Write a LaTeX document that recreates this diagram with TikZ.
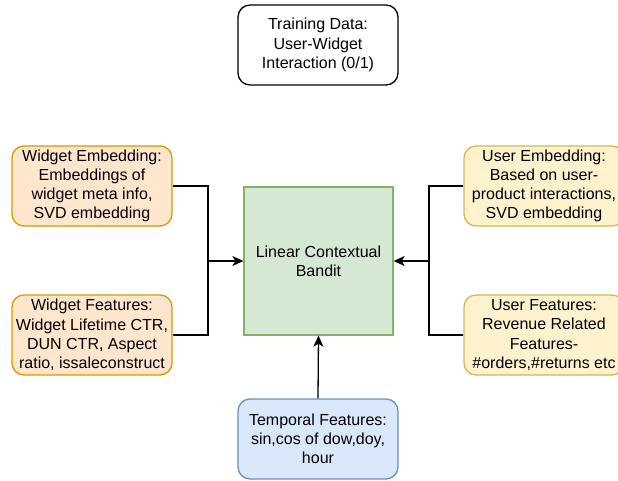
\documentclass[tikz,border=0pt]{standalone}
\usepackage{fontspec}
\setmainfont{Liberation Sans}
\usetikzlibrary{arrows.meta}
\definecolor{orfill}{HTML}{FFE6CC}
\definecolor{ordraw}{HTML}{D79B00}
\definecolor{yefill}{HTML}{FFF2CC}
\definecolor{yedraw}{HTML}{D6B656}
\definecolor{grfill}{HTML}{D5E8D4}
\definecolor{grdraw}{HTML}{82B366}
\definecolor{blfill}{HTML}{DAE8FC}
\definecolor{bldraw}{HTML}{6C8EBF}
\tikzset{
  box/.style={rounded corners=12pt, line width=1.3pt, minimum width=160pt, minimum height=80pt,
    inner sep=0pt, align=center, font=\fontsize{16}{19.2}\selectfont},
  orbox/.style={box, fill=orfill, draw=ordraw},
  yebox/.style={box, fill=yefill, draw=yedraw},
  whbox/.style={box, fill=white, draw=black},
  blbox/.style={box, fill=blfill, draw=bldraw},
  grbox/.style={line width=1.3pt, fill=grfill, draw=grdraw, minimum width=149pt, minimum height=148pt,
    inner sep=0pt, align=center, font=\fontsize{16}{19.2}\selectfont},
  conn/.style={line width=1.3pt, draw=black},
  arr/.style={conn, -{Stealth[length=11pt,width=10pt,inset=3pt]}}
}
\begin{document}
\begin{tikzpicture}[x=1pt,y=-1pt]
\fill[white] (0,0) rectangle (618,480);
\useasboundingbox (0,0) rectangle (618,480);
\clip (0,0) rectangle (618,480);
\node[whbox] (train) at (318,45) {Training Data:\\User-Widget\\Interaction (0/1)};
\node[grbox] (lcb) at (318.5,261) {Linear Contextual\\Bandit};
\node[orbox] (we) at (92,186) {Widget Embedding:\\Embeddings of\\widget meta info,\\SVD embedding};
\node[orbox] (wf) at (92,335) {Widget Features:\\Widget Lifetime CTR,\\DUN CTR, Aspect\\ratio, issaleconstruct};
\node[yebox] (ue) at (544,186) {User Embedding:\\Based on user-\\product interactions,\\SVD embedding};
\node[yebox] (uf) at (544,335) {User Features:\\Revenue Related\\Features-\\\#orders,\#returns etc};
\node[blbox] (tf) at (318,439) {Temporal Features:\\sin,cos of dow,doy,\\hour};
\coordinate (jl) at (208,261);
\coordinate (jr) at (429,261);
\draw[conn] (we.east) -| (jl);
\draw[conn] (wf.east) -| (jl);
\draw[arr] (jl) -- (lcb.west);
\draw[conn] (ue.west) -| (jr);
\draw[conn] (uf.west) -| (jr);
\draw[arr] (jr) -- (lcb.east);
\draw[arr] (tf.north) -- (lcb.south);
\end{tikzpicture}
\end{document}
